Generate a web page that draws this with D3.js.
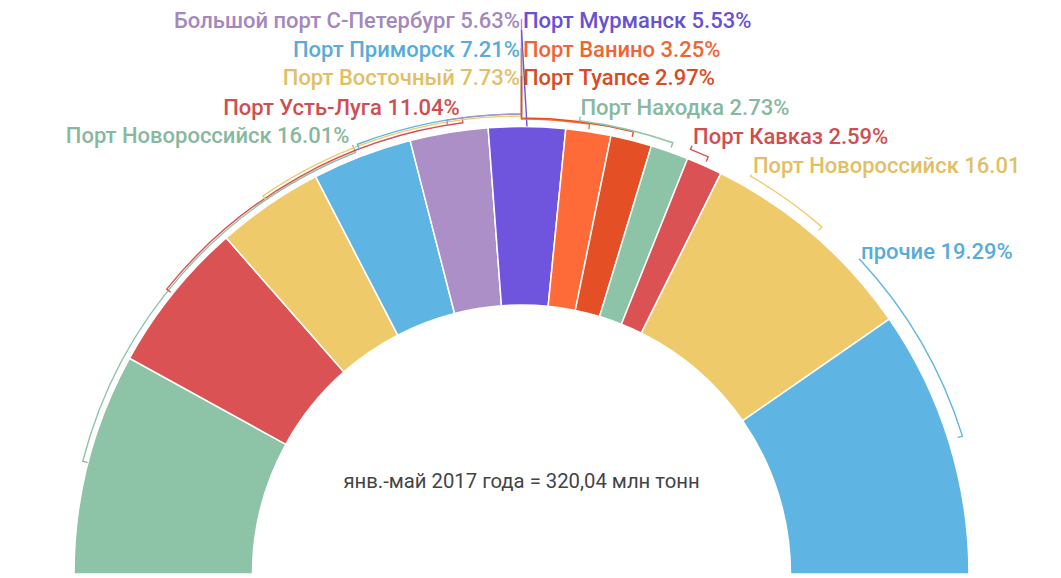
<!DOCTYPE html>
<html>
<head>
<meta charset="utf-8">
<script src="https://cdn.jsdelivr.net/npm/d3@7"></script>
<style>
  html, body { margin: 0; padding: 0; background: #fff; }
  svg { display: block; }
</style>
</head>
<body>
<svg id="chart" width="1061" height="578"></svg>
<script>
// ---- data ----
const ports = ["Порт Новороссийск", "Порт Усть-Луга", "Порт Восточный", "Порт Приморск",
  "Большой порт С-Петербург", "Порт Мурманск", "Порт Ванино", "Порт Туапсе",
  "Порт Находка", "Порт Кавказ", "Порт Новороссийск", "прочие"];
const shares = [16.01, 11.04, 7.73, 7.21, 5.63, 5.53, 3.25, 2.97, 2.73, 2.59, 16.01, 19.29];
const labelTexts = ["Порт Новороссийск 16.01%", "Порт Усть-Луга 11.04%", "Порт Восточный 7.73%",
  "Порт Приморск 7.21%", "Большой порт С-Петербург 5.63%", "Порт Мурманск 5.53%",
  "Порт Ванино 3.25%", "Порт Туапсе 2.97%", "Порт Находка 2.73%", "Порт Кавказ 2.59%",
  "Порт Новороссийск 16.01", "прочие 19.29%"];
const totalText = "янв.-май 2017 года = 320,04 млн тонн";

// ---- styles / layout ----
const colors = ["#8DC3A7", "#DB5254", "#EECA6B", "#5EB5E3", "#AC8FC7", "#6F55DD",
  "#FE6B38", "#E54F25", "#8DC3A7", "#DB5254", "#EECA6B", "#5EB5E3"];
// label angle (deg, d3 convention: 0 = up, clockwise) or top-stack row
const labelAngle = [-21.5, -7.4, null, null, null, null, null, null, 7.3, 21.7, 29.93, 47.05];
const topRow = [null, null, 2, 1, 0, 0, 1, 2, null, null, null, null];
const topSide = [null, null, "left", "left", "left", "right", "right", "right", null, null, null, null];
const bracketR = [453, 455, 458, 460, 460, null, 455, 456, 457, 457, 459, 462];

const W = 1061, H = 578;
const cx = 521.5, cy = 574;
const rOuter = 447.5, rInner = 269;
const rText = 464;
const rowBase = [28, 57, 85];

const svg = d3.select("#chart");
const g = svg.append("g").attr("transform", `translate(${cx},${cy})`);

const pie = d3.pie().sort(null).value(d => d)
  .startAngle(-Math.PI / 2).endAngle(Math.PI / 2);
const arcs = pie(shares);
const arcGen = d3.arc().innerRadius(rInner).outerRadius(rOuter);

g.selectAll("path.slice").data(arcs).join("path")
  .attr("class", "slice")
  .attr("d", arcGen)
  .attr("fill", (d, i) => colors[i])
  .attr("stroke", "#fff")
  .attr("stroke-width", 1.5);

const polar = (a, r) => [r * Math.sin(a), -r * Math.cos(a)];
const rad = d => d * Math.PI / 180;

// leaders
const leaders = g.append("g").attr("fill", "none").attr("stroke-width", 1.4);
arcs.forEach((d, i) => {
  const aC = (d.startAngle + d.endAngle) / 2;
  const p = d3.path();
  if (topSide[i] === "right" && topRow[i] === 0) {
    const s = polar(aC, rOuter);
    p.moveTo(s[0], s[1]);
    p.lineTo(0, rowBase[0] + 2 - cy);
  } else {
    const rb = bracketR[i];
    const aL = labelAngle[i] !== null ? rad(labelAngle[i]) : 0;
    const t0 = polar(aC, rb - 5);
    p.moveTo(t0[0], t0[1]);
    const t1 = polar(aC, rb);
    p.lineTo(t1[0], t1[1]);
    const phi1 = aC - Math.PI / 2, phi2 = aL - Math.PI / 2;
    p.arc(0, 0, rb, phi1, phi2, phi2 < phi1);
    if (topRow[i] !== null) {
      p.lineTo(0, rowBase[topRow[i]] - 9 - cy);
    } else {
      const t2 = polar(aL, rText - 3);
      p.lineTo(t2[0], t2[1]);
    }
  }
  leaders.append("path").attr("d", p.toString()).attr("stroke", colors[i]);
});

// labels
const labels = svg.append("g")
  .attr("font-family", "Roboto, 'Noto Sans', sans-serif")
  .attr("font-size", 22)
  .attr("font-weight", 500);
arcs.forEach((d, i) => {
  let x, y, anchor;
  if (topRow[i] !== null) {
    y = rowBase[topRow[i]];
    if (topSide[i] === "left") { x = cx - 1.5; anchor = "end"; }
    else { x = cx + 1.5; anchor = "start"; }
  } else {
    const a = rad(labelAngle[i]);
    const pt = polar(a, rText);
    x = cx + pt[0];
    y = cy + pt[1] + 1;
    anchor = labelAngle[i] < 0 ? "end" : "start";
    if (anchor === "end") x -= 2;
  }
  labels.append("text")
    .attr("x", x).attr("y", y)
    .attr("text-anchor", anchor)
    .attr("fill", d3.color(colors[i]).darker(0.15))
    .text(labelTexts[i]);
});

svg.append("text")
  .attr("x", cx).attr("y", 488)
  .attr("text-anchor", "middle")
  .attr("font-family", "Roboto, 'Noto Sans', sans-serif")
  .attr("font-size", 20.3)
  .attr("fill", "#444")
  .text(totalText);
</script>
</body>
</html>
